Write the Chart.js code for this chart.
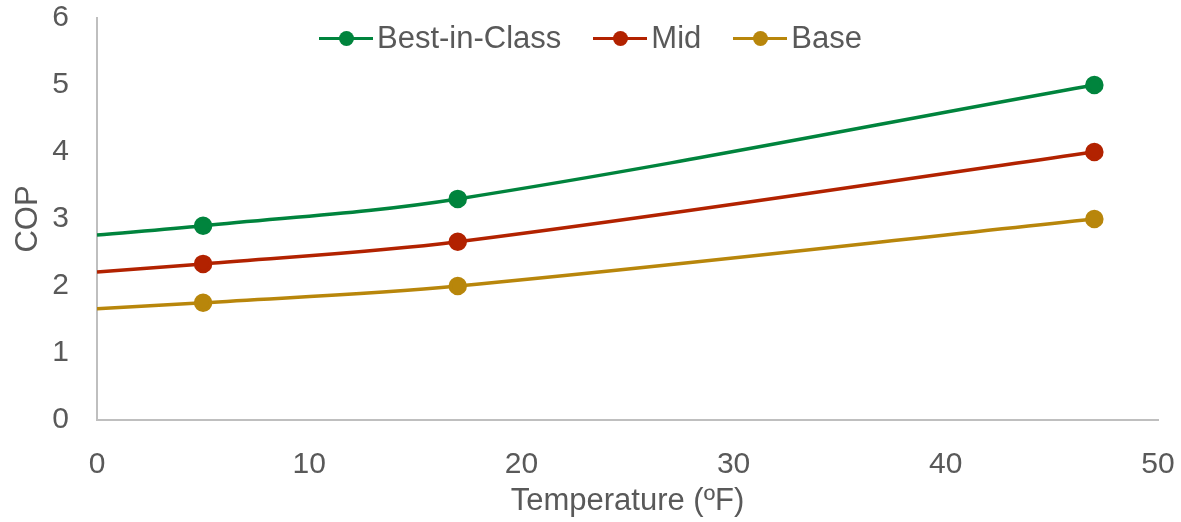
<!DOCTYPE html>
<html>
<head>
<meta charset="utf-8">
<script src="https://cdn.jsdelivr.net/npm/chart.js@4.4.1/dist/chart.umd.min.js"></script>
<style>
  html, body { margin: 0; padding: 0; background: #fff; }
  #wrap { position: relative; width: 1181px; height: 522px; }
  #legend {
    position: absolute; top: 18px; left: 0; width: 1181px;
    display: flex; justify-content: center; padding-right: 0; box-sizing: border-box;
    font-family: "Liberation Sans", Arial, sans-serif; font-size: 31px; color: #595959;
    line-height: 40px;
  }
  .item { display: flex; align-items: center; margin: 0 16px; }
  .swatch { position: relative; width: 54px; height: 16px; margin-right: 4px; }
  .swatch .ln { position: absolute; left: 0; right: 0; top: 6.5px; height: 3px; }
  .swatch .dot { position: absolute; left: 19.5px; top: 0.5px; width: 15px; height: 15px; border-radius: 50%; }
</style>
</head>
<body>
<div id="wrap">
  <canvas id="copChart" width="1181" height="522"></canvas>
  <div id="legend"></div>
</div>
<script>
// COP vs outdoor temperature
const temps = [0, 5, 17, 47];
const bestInClass = [2.76, 2.9, 3.3, 5.0];
const mid = [2.21, 2.33, 2.66, 4.0];
const base = [1.66, 1.75, 2.0, 3.0];
const seriesNames = ['Best-in-Class', 'Mid', 'Base'];
const seriesColors = ['#00843D', '#B22200', '#B8860B'];
const xTicks = [0, 10, 20, 30, 40, 50];
const yTicks = [0, 1, 2, 3, 4, 5, 6];

const font = 'Liberation Sans, Arial, sans-serif';
const textColor = '#595959';

function toPoints(values) {
    return temps.map((t, i) => ({ x: t, y: values[i] }));
}

const allValues = [bestInClass, mid, base];
const datasets = allValues.map((vals, i) => ({
    label: seriesNames[i],
    data: toPoints(vals),
    borderColor: seriesColors[i],
    backgroundColor: seriesColors[i],
    borderWidth: 3.5,
    // no marker on the x=0 end
    pointRadius: temps.map(t => t === 0 ? 0 : 7.5),
    pointHoverRadius: 7.5,
    tension: 0.35,
    fill: false
}));

// html legend (drawn over the top of the plot like the original)
const legend = document.getElementById('legend');
seriesNames.forEach((name, i) => {
    const item = document.createElement('div');
    item.className = 'item';
    item.innerHTML = '<div class="swatch"><div class="ln" style="background:' + seriesColors[i] + '"></div>' +
        '<div class="dot" style="background:' + seriesColors[i] + '"></div></div><span>' + name + '</span>';
    legend.appendChild(item);
});

new Chart(document.getElementById('copChart').getContext('2d'), {
    type: 'line',
    data: { datasets: datasets },
    options: {
        responsive: false,
        animation: false,
        layout: { padding: { top: 18, right: 23, bottom: 0, left: 0 } },
        plugins: {
            legend: { display: false },
            tooltip: { enabled: false }
        },
        scales: {
            x: {
                type: 'linear',
                min: 0,
                max: 50,
                afterBuildTicks: axis => { axis.ticks = xTicks.map(v => ({ value: v })); },
                afterFit: axis => {
                    axis.height = 102;
                    axis.paddingLeft = 0;
                    axis.paddingRight = 0;
                },
                grid: { display: false, drawTicks: false },
                border: { color: '#BFBFBF', width: 2 },
                ticks: { color: textColor, font: { family: font, size: 30 }, padding: 27 },
                title: {
                    display: true,
                    text: 'Temperature (ºF)',
                    color: textColor,
                    font: { family: font, size: 31 },
                    padding: { top: 0, bottom: 2 }
                }
            },
            y: {
                min: 0,
                max: 6,
                afterBuildTicks: axis => { axis.ticks = yTicks.map(v => ({ value: v })); },
                afterFit: axis => {
                    axis.width = 97;
                    axis.paddingTop = 0;
                    axis.paddingBottom = 0;
                },
                grid: { display: false, drawTicks: false },
                border: { color: '#BFBFBF', width: 2 },
                ticks: { color: textColor, font: { family: font, size: 30 }, padding: 28 },
                title: {
                    display: true,
                    text: 'COP',
                    color: textColor,
                    font: { family: font, size: 31 },
                    padding: { top: 10, bottom: 0 }
                }
            }
        }
    }
});
</script>
</body>
</html>
